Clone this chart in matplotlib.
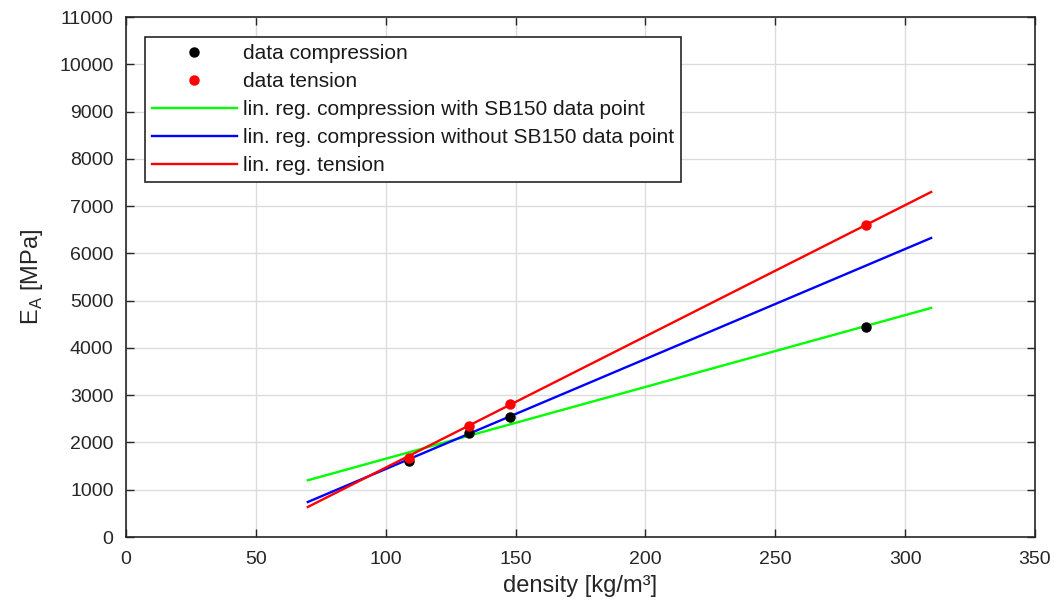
import matplotlib
matplotlib.use("Agg")
import matplotlib.pyplot as plt

plt.rcParams['font.family'] = ['Liberation Sans', 'DejaVu Sans']

# data points
x_data = [109, 132, 148, 285]
y_compression = [1608, 2200, 2539, 4443]
y_tension = [1671, 2348, 2813, 6600]

# regression line endpoints
x_fit = [70, 310]
y_fit_comp_with = [1200, 4845]
y_fit_comp_without = [740, 6325]
y_fit_tension = [635, 7298]

x_ticks = [0, 50, 100, 150, 200, 250, 300, 350]
y_ticks = [0, 1000, 2000, 3000, 4000, 5000, 6000, 7000, 8000, 9000, 10000, 11000]

fig = plt.figure(figsize=(10.54, 6.05), dpi=100)
ax = fig.add_axes([126/1054, 1-537/605, (1035-126)/1054, (537-17)/605])

ax.plot(x_fit, y_fit_comp_with, color='#00ff00', lw=1.7, label='lin. reg. compression with SB150 data point', zorder=2)
ax.plot(x_fit, y_fit_comp_without, color='#0000ff', lw=1.7, label='lin. reg. compression without SB150 data point', zorder=2)
ax.plot(x_fit, y_fit_tension, color='#ff0000', lw=1.7, label='lin. reg. tension', zorder=2)
ax.plot(x_data, y_compression, 'o', color='black', ms=6.5, ls='none', label='data compression', zorder=3)
ax.plot(x_data, y_tension, 'o', color='#ff0000', ms=6.5, ls='none', label='data tension', zorder=3)

ax.set_xlim(0, 350)
ax.set_ylim(0, 11000)
ax.set_xticks(x_ticks)
ax.set_yticks(y_ticks)
ax.grid(True, color='#dcdcdc', lw=1.0)
ax.set_axisbelow(True)
ax.tick_params(direction='in', top=True, right=True, labelsize=14, colors='#262626', length=6, width=1)
ax.tick_params(axis='y', pad=9)
ax.tick_params(axis='x', pad=10)
for s in ax.spines.values():
    s.set_color('#262626')
    s.set_linewidth(1.2)

ax.set_xlabel('density [kg/m³]', fontsize=17, color='#262626', labelpad=5)
ax.set_ylabel('E$_\\mathregular{A}$ [MPa]', fontsize=17, color='#262626', labelpad=10)

handles, labels = ax.get_legend_handles_labels()
order = [3, 4, 0, 1, 2]
leg = ax.legend([handles[i] for i in order], [labels[i] for i in order],
                loc='upper left', bbox_to_anchor=(19/909, 1-20/520), borderaxespad=0,
                fontsize=15, handlelength=4.05, handletextpad=0.3, labelspacing=0.43,
                fancybox=False, framealpha=1, edgecolor='#262626', borderpad=0.35)
leg.get_frame().set_linewidth(1.2)
for t in leg.get_texts():
    t.set_color('#1a1a1a')

fig.savefig('out.png', dpi=100)
